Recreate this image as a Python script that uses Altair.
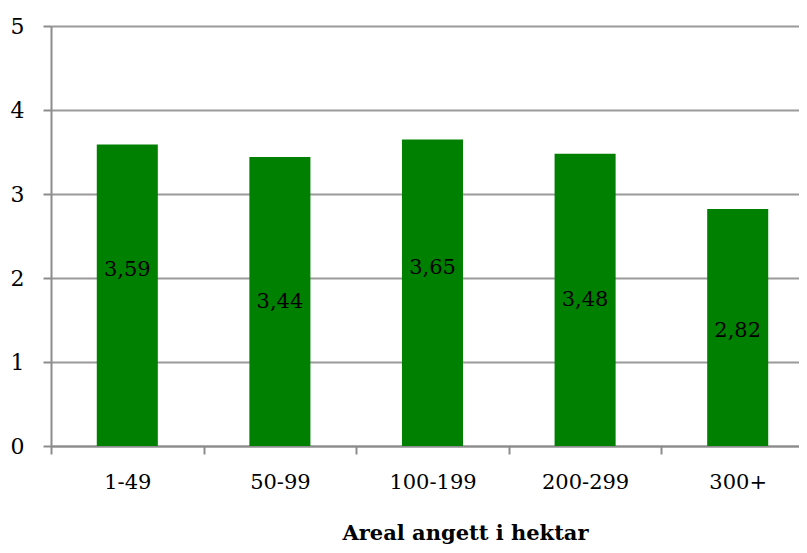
import altair as alt
import pandas as pd

categories = ["1-49", "50-99", "100-199", "200-299", "300+"]
values = [3.59, 3.44, 3.65, 3.48, 2.82]
value_labels = ["3,59", "3,44", "3,65", "3,48", "2,82"]
label_y = [2.10, 1.71, 2.12, 1.74, 1.37]
y_ticks = [0, 1, 2, 3, 4, 5]
x_title = "Areal angett i hektar"

df = pd.DataFrame({"cat": categories, "val": values, "lab": value_labels, "ly": label_y})

FONT = "DejaVu Serif"

xscale = alt.Scale(paddingInner=0, paddingOuter=0, range=[0, 763])

x = alt.X("cat:N", sort=categories, scale=xscale,
          axis=alt.Axis(title=x_title, tickBand="extent", labelAngle=0,
                        labelFont=FONT, labelFontSize=21, labelColor="#000",
                        labelPadding=17, tickSize=8, tickColor="#8c8c8c", tickWidth=2,
                        domainColor="#8c8c8c", domainWidth=2, grid=False,
                        titleFont=FONT, titleFontSize=21, titleFontWeight="bold",
                        titleColor="#000", titleBaseline="alphabetic",
                        titleY=93, titleX=414, titleAlign="center"))

y = alt.Y("val:Q", scale=alt.Scale(domain=[0, 5], nice=False),
          axis=alt.Axis(title=None, values=y_ticks, format="d",
                        labelFont=FONT, labelFontSize=22, labelColor="#000",
                        labelPadding=19, tickSize=8, tickColor="#8c8c8c", tickWidth=2,
                        domainColor="#8c8c8c", domainWidth=2,
                        gridColor="#9a9a9a", gridWidth=2))

bars = alt.Chart(df).mark_bar(color="#008000", width={"band": 0.4}).encode(x=x, y=y)

labels = alt.Chart(df).mark_text(font=FONT, fontSize=21, color="#000", baseline="middle").encode(
    x=alt.X("cat:N", sort=categories, scale=xscale), y=alt.Y("ly:Q"), text="lab:N")

chart = alt.layer(bars, labels).properties(
    width=748, height=420,
    autosize=alt.AutoSizeParams(type="none"),
    padding={"left": 43, "top": 18, "right": 0, "bottom": 99},
).configure_view(stroke=None)

chart.save("out.html", embed_options={"renderer": "svg", "actions": False})
